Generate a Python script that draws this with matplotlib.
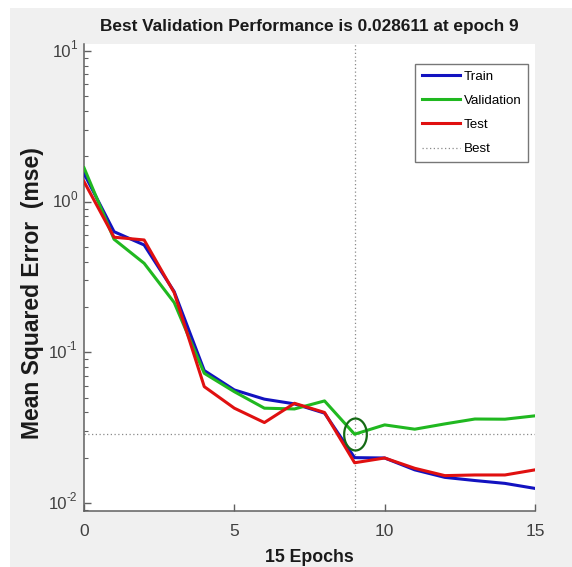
import matplotlib
matplotlib.use("Agg")
import matplotlib.pyplot as plt
import matplotlib.transforms as mtransforms
import numpy as np
from matplotlib.patches import Rectangle
from matplotlib.path import Path

# ---- data ----
epochs = list(range(16))
train = [1.54, 0.632, 0.516, 0.253, 0.0757, 0.0563, 0.0489, 0.0455, 0.0395,
         0.0200, 0.0199, 0.0166, 0.0148, 0.0141, 0.0135, 0.0125]
validation = [1.68, 0.563, 0.390, 0.214, 0.0726, 0.0548, 0.0426, 0.0421, 0.0476,
              0.028611, 0.0330, 0.0309, 0.0335, 0.0361, 0.0360, 0.0379]
test = [1.36, 0.581, 0.557, 0.249, 0.0592, 0.0426, 0.0342, 0.0459, 0.0399,
        0.0185, 0.0199, 0.0170, 0.0152, 0.01535, 0.01535, 0.0166]
best_epoch = 9
best_perf = 0.028611
series_labels = ["Train", "Validation", "Test", "Best"]
x_ticks = [0, 5, 10, 15]
y_ticks = [1e-2, 1e-1, 1e0, 1e1]
y_exponents = ["-2", "-1", "0", "1"]
title_text = "Best Validation Performance is 0.028611 at epoch 9"
xlabel_text = "15 Epochs"
ylabel_text = "Mean Squared Error  (mse)"

# ---- fonts ----
FAM = ["Liberation Sans", "DejaVu Sans"]
plt.rcParams['font.family'] = FAM

W, H = 572, 567
fig = plt.figure(figsize=(W / 100, H / 100), dpi=100, facecolor='white')
fig.add_artist(Rectangle((10 / W, 0), 1, 1 - 8 / H, transform=fig.transFigure,
                         facecolor='#f0f0f0', edgecolor='none', zorder=-10))

ax_l, ax_r, ax_t, ax_b = 84, 535, 44, 511
ax = fig.add_axes([ax_l / W, 1 - ax_b / H, (ax_r - ax_l) / W, (ax_b - ax_t) / H])
ax.set_facecolor('white')

lw = 2.2
ax.plot(epochs, train, color='#1212c0', lw=lw, label=series_labels[0], zorder=3)
ax.plot(epochs, validation, color='#20b820', lw=lw, label=series_labels[1], zorder=3)
ax.plot(epochs, test, color='#e01010', lw=lw, label=series_labels[2], zorder=3)

ax.set_yscale('log')
ax.set_xlim(0, 15)
ax.set_ylim(10 ** -2.053, 10 ** 1.0465)

dot_style = (0, (1, 2))
ax.axvline(best_epoch, color='#8a8a8a', lw=0.9, ls=dot_style, label=series_labels[3], zorder=2)
ax.axhline(best_perf, color='#8a8a8a', lw=0.9, ls=dot_style, zorder=2)

t = np.linspace(0, 2 * np.pi, 60)
ell = Path(np.column_stack([0.71 * np.cos(t), np.sin(t)]))
ax.plot([best_epoch], [best_perf], marker=ell, markersize=23, markerfacecolor='none',
        markeredgecolor='#156a15', markeredgewidth=1.6, ls='none', zorder=4)

for s in ['top', 'right']:
    ax.spines[s].set_visible(False)
for s in ['left', 'bottom']:
    ax.spines[s].set_color('#606060')
    ax.spines[s].set_linewidth(1.1)

ax.set_xticks(x_ticks)
ax.set_xticklabels([str(v) for v in x_ticks])
ax.set_yticks(y_ticks)
ax.set_yticklabels([])
ax.yaxis.set_minor_locator(matplotlib.ticker.LogLocator(base=10, subs=np.arange(2, 10)))
ax.yaxis.set_minor_formatter(matplotlib.ticker.NullFormatter())
ax.tick_params(axis='both', which='both', direction='in', colors='#606060',
               labelcolor='#404040')
ax.tick_params(axis='x', which='major', length=5, width=1, pad=9, labelsize=12.5)
ax.tick_params(axis='y', which='major', length=5, width=1)
ax.tick_params(axis='y', which='minor', length=3, width=0.8)

# y tick labels: "10" with a raised exponent (short hyphen, as in the original)
ytrans = ax.get_yaxis_transform()
for yv, ex in zip(y_ticks, y_exponents):
    sup_tr = mtransforms.offset_copy(ytrans, fig=fig, x=-7, y=5, units='dots')
    ax.text(0, yv, ex, transform=sup_tr, ha='right', va='center',
            fontsize=8.5, color='#404040')
    base_w = 5.5 if len(ex) == 1 else 9.5
    base_tr = mtransforms.offset_copy(ytrans, fig=fig, x=-7 - base_w, y=-1, units='dots')
    ax.text(0, yv, "10", transform=base_tr, ha='right', va='center',
            fontsize=12, color='#404040')

fig.text(309.5 / W, 1 - 27 / H, title_text, ha='center', va='center',
         fontsize=12.4, fontweight='bold', color='#1a1a1a')
fig.text(309.5 / W, 1 - 557 / H, xlabel_text, ha='center', va='center',
         fontsize=12.8, fontweight='bold', color='#1a1a1a')
fig.text(33 / W, 1 - 293 / H, ylabel_text, ha='center', va='center', rotation=90,
         fontsize=16.5, fontweight='bold', color='#1a1a1a')

leg = ax.legend(loc='upper left', bbox_to_anchor=(415 / W, 1 - 64 / H),
                bbox_transform=fig.transFigure, borderaxespad=0, fancybox=False,
                framealpha=1, edgecolor='#777777', handlelength=2.9,
                handletextpad=0.25, labelspacing=0.88, borderpad=0.5,
                prop={'size': 9.6})
leg.get_frame().set_linewidth(1.0)

fig.savefig('out.png', dpi=100, facecolor=fig.get_facecolor())
